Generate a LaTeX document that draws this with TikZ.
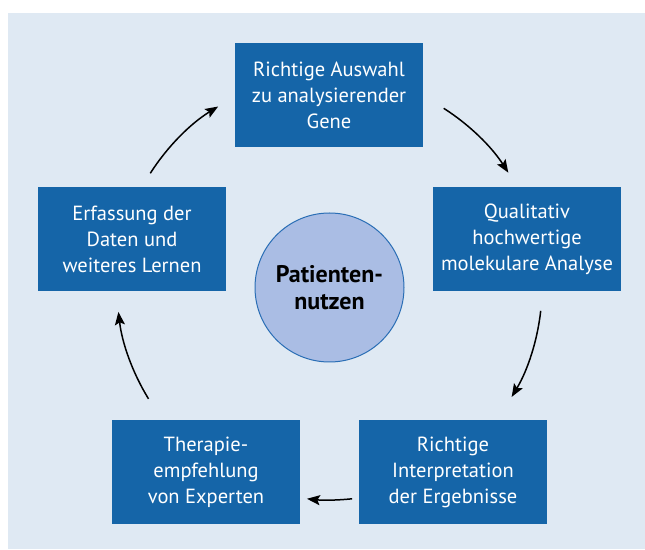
\documentclass[tikz,border=0pt]{standalone}
\usepackage{fontspec}
\setmainfont{PT Sans}
\usetikzlibrary{arrows.meta,calc}
\definecolor{panel}{HTML}{DFE9F3}
\definecolor{boxblue}{HTML}{1565A8}
\definecolor{hubfill}{HTML}{AABDE4}
\definecolor{hubline}{HTML}{2A6EB5}
\begin{document}
\begin{tikzpicture}[x=1pt,y=1pt,
  stepbox/.style={fill=boxblue,text=white,minimum width=188pt,minimum height=104pt,
    align=center,inner sep=0pt,font=\fontsize{20.5}{26}\selectfont},
  hubnode/.style={circle,fill=hubfill,draw=hubline,line width=1pt,minimum size=149pt,
    align=center,inner sep=0pt,font=\bfseries\fontsize{24}{27}\selectfont},
  flow/.style={line width=1.5pt,-{Stealth[length=13pt,width=10pt,inset=2.5pt]}}]
\useasboundingbox (0,0) rectangle (645,549);
\fill[panel] (8,0) rectangle (645,536);

\node[hubnode] (hub) at (329.5,261.5) {Patienten-\\nutzen};

\node[stepbox] (gene)   at (329,454)   {Richtige Auswahl\\zu analysierender\\Gene};
\node[stepbox] (analyse) at (527,309.5) {Qualitativ\\hochwertige\\molekulare Analyse};
\node[stepbox] (interp) at (453,77)    {Richtige\\Interpretation\\der Ergebnisse};
\node[stepbox] (therap) at (206,77)    {Therapie-\\empfehlung\\von Experten};
\node[stepbox] (lernen) at (132,309.5) {Erfassung der\\Daten und\\weiteres Lernen};

% arrows run along a circle around the hub
\def\ringr{212.5pt}
\coordinate (a1) at ($(hub)+(147.5:\ringr)$);
\coordinate (a2) at ($(hub)+(57.5:\ringr)$);
\coordinate (a3) at ($(hub)+(-6.3:\ringr)$);
\coordinate (a4) at ($(hub)+(-83.9:\ringr)$);
\coordinate (a5) at ($(hub)+(-148.4:\ringr)$);

\draw[flow] (a1) arc[start angle=147.5, end angle=121.6, radius=\ringr];
\draw[flow] (a2) arc[start angle=57.5, end angle=32.7, radius=\ringr];
\draw[flow] (a3) arc[start angle=-6.3, end angle=-31, radius=\ringr];
\draw[flow] (a4) arc[start angle=-83.9, end angle=-96.1, radius=\ringr];
\draw[flow] (a5) arc[start angle=-148.4, end angle=-173.4, radius=\ringr];
\end{tikzpicture}
\end{document}
